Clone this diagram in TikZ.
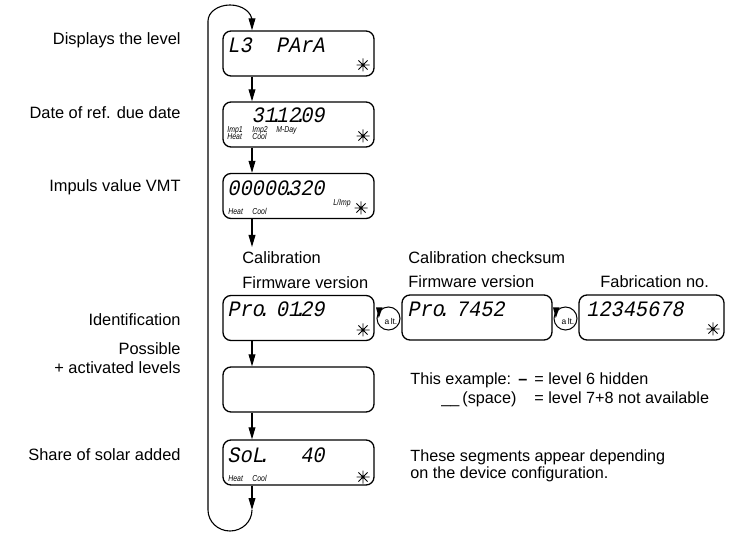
\documentclass[tikz,border=0pt]{standalone}
\usepackage{fontspec}
\setmainfont{Liberation Sans}
\newfontfamily\lcdfont[FakeSlant=0.2,FakeStretch=0.92]{Liberation Mono}
\newfontfamily\segfont[FakeStretch=0.8]{Liberation Sans}
\usetikzlibrary{arrows.meta}
\newcommand\lcddot{\makebox[0pt]{.}}
\newcommand\blk{\phantom{0}}
\tikzset{
  lcdbox/.style={draw, rounded corners=4pt, line width=0.65pt, minimum width=75.5pt, minimum height=22.5pt, inner sep=0pt},
  arr/.style={line width=0.55pt, -{Triangle[length=6pt,width=3.4pt]}},
  lbl/.style={font=\fontsize{8.2}{10}\selectfont, inner sep=0pt},
  note/.style={font=\fontsize{8.1}{10}\selectfont, inner sep=0pt, anchor=base west},
  lcd/.style={font=\lcdfont\fontsize{11}{12}\selectfont, anchor=base west, inner sep=0pt},
  seg/.style={font=\segfont\itshape\fontsize{4.3}{4.5}\selectfont, inner sep=0pt, anchor=base west},
  altc/.style={circle, draw, line width=0.5pt, minimum size=11.5pt, inner sep=0pt},
  altt/.style={font=\fontsize{4.2}{4.5}\selectfont, inner sep=0pt},
  star/.pic={\draw[line width=0.45pt] (-6.5,0)--(6.5,0) (0,-6.5)--(0,6.5) (-4.6,-4.6)--(4.6,4.6) (-4.6,4.6)--(4.6,-4.6); \fill (0,0) circle (1.3);}
}
\begin{document}
\begin{tikzpicture}[x=0.5pt,y=-0.5pt]
\useasboundingbox (0,0) rectangle (732,533);
\coordinate (ax) at (252,0);
\coordinate (bl) at (0,510);
\coordinate (c3) at (0,247);

% boxes
\node[lcdbox] (b1) at (298.5,53.5) {};
\node[lcdbox] (b2) at (298.5,124.5) {};
\node[lcdbox] (b3) at (298.5,196) {};
\node[lcdbox] (b4) at (298.5,318) {};
\node[lcdbox] (b5) at (298.5,389.5) {};
\node[lcdbox] (b6) at (298.5,462.5) {};
\node[lcdbox, minimum width=75pt] (b7) at (477,317.5) {};
\node[lcdbox, minimum width=72.5pt] (b8) at (651.5,317.5) {};

% lcd texts
\node[lcd] (t1) at (227,53) {L3\blk\blk PArA};
\node[lcd] (t2) at (227,123) {\blk\blk 31\lcddot12\lcddot09};
\node[lcd] (t3) at (227,196) {00000\lcddot320};
\node[lcd] (t4) at (227,317) {Pro\lcddot\blk 01\lcddot29};
\node[lcd] (t7) at (407,317) {Pro\lcddot\blk 7452};
\node[lcd] (t8) at (586,317) {12345678};
\node[lcd] (t6) at (227,462) {SoL\lcddot\blk\blk\blk 40};

% small segment labels
\node[seg] (s21) at (227,133) {Imp1};
\node[seg] (s22) at (227,140) {Heat};
\node[seg] (s23) at (252,133) {Imp2};
\node[seg] (s24) at (252,140) {Cool};
\node[seg] (s25) at (276,133) {M-Day};
\node[seg] (s31) at (228,215) {Heat};
\node[seg] (s32) at (252,215) {Cool};
\node[seg] (s33) at (333,206) {L/Imp};
\node[seg] (s61) at (228,481) {Heat};
\node[seg] (s62) at (252,481) {Cool};

% stars
\pic at (363,65) {star};
\pic at (363,136) {star};
\pic at (361,208) {star};
\pic at (363,330) {star};
\pic at (363,477) {star};
\pic at (713,329) {star};

% arrows
\draw[arr] (b1.south -| ax) -- (b2.north -| ax);
\draw[arr] (b2.south -| ax) -- (b3.north -| ax);
\draw[arr] (b3.south -| ax) -- (ax |- c3);
\draw[arr] (b4.south -| ax) -- (b5.north -| ax);
\draw[arr] (b5.south -| ax) -- (b6.north -| ax);
\draw[arr] (b6.south -| ax) -- (ax |- bl);
\draw[arr] (ax |- bl) arc[start angle=0, end angle=180, x radius=22, y radius=21]
  -- (208,21) arc[start angle=180, end angle=360, x radius=22, y radius=16]
  -- (b1.north -| ax);

% alt circles
\node[altc] (a1) at (388.5,318.5) {};
\node[altt] (a1t) at (391,321) {a\,lt.};
\fill (376,307.5) -- (382.5,307.5) -- (378.8,318) -- cycle;
\node[altc] (a2) at (565.5,318.5) {};
\node[altt] (a2t) at (568,321) {a\,lt.};
\fill (553,307.5) -- (559.5,307.5) -- (555.8,318) -- cycle;

% left labels
\node[lbl, anchor=east] (l1) at (181,40) {Displays the level};
\node[lbl, anchor=east] (l2) at (181,113) {Date of ref. due date};
\node[lbl, anchor=east] (l3) at (181,187) {Impuls value VMT};
\node[lbl, anchor=east] (l4) at (181,320) {Identification};
\node[lbl, anchor=east] (l5) at (181,349) {Possible};
\node[lbl, anchor=east] (l6) at (181,368) {+ activated levels};
\node[lbl, anchor=east] (l7) at (181,455) {Share of solar added};

% top labels
\node[lbl, anchor=west] (c1) at (242,258) {Calibration};
\node[lbl, anchor=west] (c2) at (242,283) {Firmware version};
\node[lbl, anchor=west] (c3t) at (408,258) {Calibration checksum};
\node[lbl, anchor=west] (c4) at (408,282) {Firmware version};
\node[lbl, anchor=west] (c5) at (600,282) {Fabrication no.};

% notes
\node[note] (n1) at (410,385) {This example:};
\node[note, font=\fontsize{8.1}{10}\selectfont\bfseries] (n2) at (518,385) {–};
\node[note] (n3) at (534,385) {= level 6 hidden};
\node[note] (n4) at (441,403) {\_\_};
\node[note] (n5) at (462,403) {(space)};
\node[note] (n6) at (534,403) {= level 7+8 not available};
\node[note] (n7) at (410,461) {These segments appear depending};
\node[note] (n8) at (410,478) {on the device configuration.};
\end{tikzpicture}
\end{document}
